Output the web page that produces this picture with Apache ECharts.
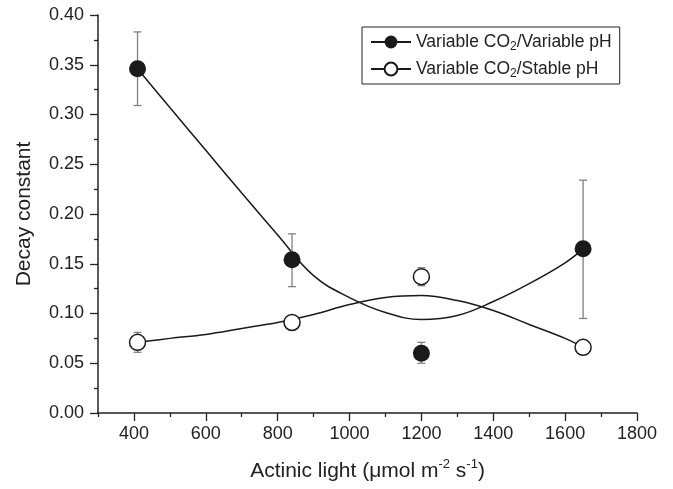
<!DOCTYPE html>
<html>
<head>
<meta charset="utf-8">
<script src="https://cdn.jsdelivr.net/npm/echarts@6/dist/echarts.min.js"></script>
<style>
  html, body { margin: 0; padding: 0; background: #fff; }
  #chart { width: 673px; height: 489px; }
</style>
</head>
<body>
<div id="chart"></div>
<script>
'use strict';

// measured points (light, decay constant, error low, error high)
var lightLevels = [410, 840, 1200, 1650];
var varPhMean = [0.346, 0.154, 0.060, 0.165];
var varPhLow = [0.309, 0.127, 0.050, 0.095];
var varPhHigh = [0.383, 0.180, 0.071, 0.234];
var stablePhMean = [0.071, 0.091, 0.137, 0.066];
var stablePhLow = [0.061, 0.088, 0.128, 0.063];
var stablePhHigh = [0.081, 0.094, 0.146, 0.069];

// fitted curves
var curveX = [410, 500, 600, 700, 800, 900, 1000, 1100, 1200, 1300, 1400, 1500, 1600, 1650];
var varPhCurve = [0.346, 0.307, 0.264, 0.221, 0.179, 0.138, 0.116, 0.101, 0.094, 0.098, 0.112, 0.130, 0.151, 0.165];
var stablePhCurve = [0.071, 0.075, 0.079, 0.085, 0.091, 0.099, 0.109, 0.116, 0.118, 0.113, 0.103, 0.089, 0.075, 0.066];

var xMajor = [400, 600, 800, 1000, 1200, 1400, 1600, 1800];
var xMinor = [300, 500, 700, 900, 1100, 1300, 1500, 1700];

var NAME_A = 'Variable CO2/Variable pH';
var NAME_B = 'Variable CO2/Stable pH';

function zip(xs, ys) {
  return xs.map(function (x, i) { return [x, ys[i]]; });
}
function bars(xs, lo, hi) {
  return xs.map(function (x, i) { return [x, lo[i], hi[i]]; });
}

function errorBar(params, api) {
  var x = api.value(0);
  var p1 = api.coord([x, api.value(1)]);
  var p2 = api.coord([x, api.value(2)]);
  var w = 4;
  var style = { stroke: '#808080', lineWidth: 1.3 };
  return {
    type: 'group',
    children: [
      { type: 'line', shape: { x1: p1[0], y1: p1[1], x2: p2[0], y2: p2[1] }, style: style },
      { type: 'line', shape: { x1: p1[0] - w, y1: p1[1], x2: p1[0] + w, y2: p1[1] }, style: style },
      { type: 'line', shape: { x1: p2[0] - w, y1: p2[1], x2: p2[0] + w, y2: p2[1] }, style: style }
    ]
  };
}

var font = 'Liberation Sans, Arial, sans-serif';
var chart = echarts.init(document.getElementById('chart'));

var option = {
  animation: false,
  grid: { left: 98, right: 36, top: 15, bottom: 76 },
  legend: {
    orient: 'vertical',
    left: 362,
    top: 27,
    padding: [4, 8, 4, 8],
    itemGap: 5,
    itemWidth: 40,
    itemHeight: 16,
    borderColor: '#222',
    borderWidth: 1,
    data: [NAME_A, NAME_B],
    formatter: function (name) { return name.replace('CO2', 'CO{sub|2}'); },
    textStyle: {
      fontFamily: font, fontSize: 17.5, color: '#222', lineHeight: 22,
      rich: {
        sub: { fontFamily: font, fontSize: 12, lineHeight: 11, verticalAlign: 'bottom', color: '#222' }
      }
    }
  },
  xAxis: [{
    type: 'value',
    min: 300,
    max: 1800,
    name: 'Actinic light (\u03bcmol m{sup|-2} s{sup|-1})',
    nameLocation: 'middle',
    nameGap: 45,
    nameTextStyle: {
      fontFamily: font, fontSize: 21, color: '#222', lineHeight: 26,
      rich: {
        sup: { fontFamily: font, fontSize: 13, lineHeight: 12, verticalAlign: 'top', color: '#222' }
      }
    },
    axisLine: { lineStyle: { color: '#222', width: 1.5 } },
    axisTick: { customValues: xMajor, length: 8, lineStyle: { color: '#222', width: 1.3 } },
    axisLabel: {
      customValues: xMajor, fontFamily: font, fontSize: 18, color: '#222', margin: 12,
      formatter: function (v) { return String(v); }
    },
    splitLine: { show: false }
  }, {
    type: 'value',
    min: 300,
    max: 1800,
    position: 'bottom',
    axisLine: { show: false },
    axisTick: { customValues: xMinor, length: 4, lineStyle: { color: '#222', width: 1.3 } },
    axisLabel: { show: false },
    splitLine: { show: false }
  }],
  yAxis: {
    type: 'value',
    min: 0,
    max: 0.4,
    interval: 0.05,
    name: 'Decay constant',
    nameLocation: 'middle',
    nameGap: 63,
    nameTextStyle: { fontFamily: font, fontSize: 21, color: '#222' },
    axisLine: { show: true, lineStyle: { color: '#222', width: 1.5 } },
    axisTick: { show: true, length: 8, lineStyle: { color: '#222', width: 1.3 } },
    minorTick: { show: true, splitNumber: 2, length: 4, lineStyle: { color: '#222', width: 1.3 } },
    axisLabel: {
      fontFamily: font, fontSize: 18, color: '#222', margin: 14,
      formatter: function (v) { return v.toFixed(2); }
    },
    splitLine: { show: false }
  },
  series: [
    {
      name: NAME_A, type: 'line', smooth: 0.4, data: zip(curveX, varPhCurve),
      showSymbol: false, symbol: 'circle', symbolSize: 14,
      itemStyle: { color: '#1a1a1a', borderColor: '#1a1a1a' },
      lineStyle: { color: '#1a1a1a', width: 1.5 }, z: 2
    },
    {
      name: NAME_B, type: 'line', smooth: 0.4, data: zip(curveX, stablePhCurve),
      showSymbol: false, symbol: 'circle', symbolSize: 14,
      itemStyle: { color: '#fff', borderColor: '#1a1a1a', borderWidth: 1.5 },
      lineStyle: { color: '#1a1a1a', width: 1.5 }, z: 2
    },
    {
      name: NAME_A, type: 'custom', renderItem: errorBar,
      data: bars(lightLevels, varPhLow, varPhHigh), z: 3
    },
    {
      name: NAME_B, type: 'custom', renderItem: errorBar,
      data: bars(lightLevels, stablePhLow, stablePhHigh), z: 3
    },
    {
      name: NAME_A, type: 'scatter', data: zip(lightLevels, varPhMean),
      symbol: 'circle', symbolSize: 17,
      itemStyle: { color: '#1a1a1a', opacity: 1 }, z: 4
    },
    {
      name: NAME_B, type: 'scatter', data: zip(lightLevels, stablePhMean),
      symbol: 'circle', symbolSize: 16,
      itemStyle: { color: '#fff', borderColor: '#1a1a1a', borderWidth: 1.5, opacity: 1 }, z: 4
    }
  ]
};

chart.setOption(option);
</script>
</body>
</html>
